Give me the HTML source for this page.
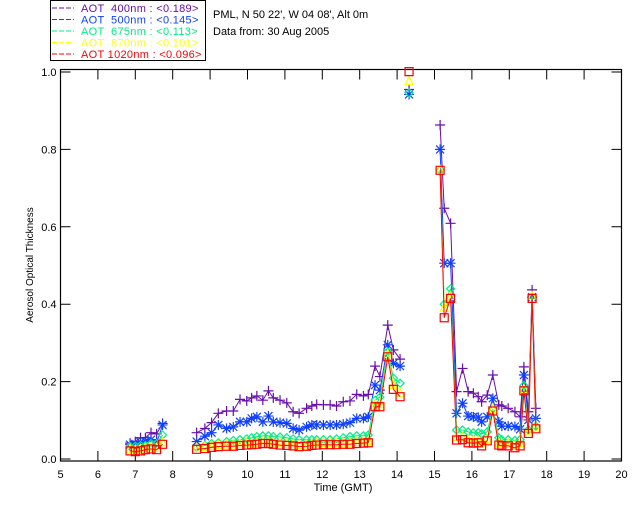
<!DOCTYPE html>
<html><head><meta charset="utf-8"><style>
html,body{margin:0;padding:0;background:#fff;}
svg{display:block;font-family:"Liberation Sans",sans-serif;}
.pre{white-space:pre;}
</style></head><body>
<svg id="chart" width="640" height="512" viewBox="0 0 640 512" xmlns="http://www.w3.org/2000/svg">
<rect x="0" y="0" width="640" height="512" fill="#fff"/>
<g id="legend">
<rect x="50.5" y="0.5" width="155" height="60" fill="none" stroke="#000"/>
</g>
<text x="213" y="18" font-size="11">PML, N 50 22', W 04 08', Alt 0m</text>
<text x="213" y="35" font-size="11">Data from: 30 Aug 2005</text>
<g id="axes"></g>
<g id="series"></g>
<text x="343" y="491" font-size="11" text-anchor="middle">Time (GMT)</text>
<text transform="translate(33,265) rotate(-90)" font-size="10" text-anchor="middle">Aerosol Optical Thickness</text>
</svg>
<script>
const times = [6.86,7.0,7.14,7.27,7.42,7.57,7.73, null,
8.64,8.86,9.04,9.22,9.44,9.62,9.80,9.98,10.11,10.25,10.41,10.56,10.69,10.87,11.05,11.22,11.38,11.58,11.72,11.85,12.03,12.21,12.38,12.56,12.74,12.92,13.10,13.23,13.41,13.54,13.75,13.90,14.08, null,
14.32, null,
15.15,15.26,15.43,15.59,15.75,15.90,16.04,16.17,16.26,16.41,16.56,16.72,16.80,16.97,17.15,17.29,17.39,17.51,17.61,17.71];
const aot400 = [0.041,0.045,0.055,0.055,0.068,0.065,0.092, null,
0.068,0.079,0.094,0.118,0.124,0.124,0.154,0.150,0.158,0.163,0.152,0.176,0.158,0.152,0.145,0.122,0.118,0.131,0.137,0.141,0.140,0.140,0.137,0.148,0.150,0.167,0.163,0.167,0.240,0.213,0.346,0.282,0.258, null,
0.955, null,
0.863,0.648,0.609,0.174,0.234,0.174,0.170,0.161,0.148,0.165,0.217,0.140,0.137,0.131,0.122,0.109,0.238,0.122,0.437,0.131];
const aot500 = [0.037,0.039,0.043,0.045,0.050,0.041,0.088, null,
0.045,0.059,0.068,0.088,0.079,0.083,0.096,0.096,0.105,0.109,0.096,0.111,0.096,0.094,0.092,0.079,0.075,0.083,0.088,0.088,0.088,0.088,0.088,0.090,0.094,0.105,0.105,0.109,0.191,0.178,0.295,0.247,0.240, null,
0.942, null,
0.800,0.506,0.506,0.118,0.144,0.111,0.109,0.108,0.096,0.109,0.157,0.096,0.085,0.085,0.084,0.077,0.217,0.101,0.418,0.105];
const aot675 = [0.032,0.033,0.035,0.035,0.040,0.040,0.062, null,
0.030,0.035,0.040,0.042,0.045,0.048,0.050,0.052,0.055,0.058,0.060,0.060,0.058,0.057,0.055,0.052,0.050,0.050,0.050,0.050,0.050,0.050,0.052,0.055,0.058,0.060,0.060,0.062,0.152,0.160,0.277,0.209,0.196, null,
0.946, null,
0.746,0.400,0.440,0.075,0.075,0.070,0.068,0.068,0.065,0.070,0.130,0.055,0.050,0.050,0.048,0.050,0.190,0.075,0.420,0.085];
const aot870 = [0.025,0.023,0.025,0.028,0.030,0.028,0.042, null,
0.028,0.030,0.033,0.035,0.036,0.036,0.038,0.039,0.040,0.041,0.043,0.043,0.041,0.039,0.038,0.037,0.035,0.036,0.038,0.039,0.040,0.040,0.040,0.041,0.041,0.043,0.044,0.045,0.140,0.140,0.270,0.190,0.170, null,
0.975, null,
0.746,0.390,0.420,0.055,0.055,0.048,0.047,0.047,0.040,0.050,0.128,0.040,0.038,0.038,0.034,0.040,0.180,0.070,0.420,0.080];
const aot1020 = [0.021,0.019,0.021,0.024,0.026,0.024,0.038, null,
0.025,0.027,0.030,0.032,0.033,0.033,0.035,0.036,0.037,0.038,0.040,0.040,0.038,0.036,0.035,0.034,0.032,0.033,0.035,0.036,0.037,0.037,0.037,0.038,0.038,0.040,0.041,0.042,0.135,0.135,0.264,0.180,0.161, null,
1.001, null,
0.746,0.365,0.415,0.049,0.050,0.042,0.041,0.042,0.034,0.047,0.124,0.036,0.034,0.034,0.029,0.034,0.176,0.066,0.415,0.078];
const xTicks = [5,6,7,8,9,10,11,12,13,14,15,16,17,18,19,20];
const yTicks = [0.0,0.2,0.4,0.6,0.8,1.0];
const legendLabels = ["AOT  400nm : <0.189>","AOT  500nm : <0.145>","AOT  675nm : <0.113>","AOT  870nm : <0.101>","AOT 1020nm : <0.096>"];

const NS="http://www.w3.org/2000/svg";
const L=60.5,R=621.5,T=69.5,B=461;
function xs(h){return L+(h-5)*(R-L)/15;}
function ys(v){return 459-v*387;}
function mk(tag,attrs,parent){const e=document.createElementNS(NS,tag);for(const k in attrs)e.setAttribute(k,attrs[k]);parent.appendChild(e);return e;}
const axes=document.getElementById('axes');
const frame=mk('rect',{x:L,y:T,width:R-L,height:B-T,fill:'none',stroke:'#000','stroke-width':1.2},axes);


xTicks.forEach(t=>{
  const x=xs(t);
  const tk=mk('path',{d:`M${x} ${B}V${B-10}M${x} ${T}V${T+10}`,stroke:'#000','stroke-width':1},axes);
  
  
  const lb=mk('text',{x:x,y:478,'font-size':11,'text-anchor':'middle'},axes);
  lb.textContent=String(t);
  
  
});
yTicks.forEach(t=>{
  const y=ys(t);
  const tk=mk('path',{d:`M${L} ${y}H${L+10}M${R} ${y}H${R-10}`,stroke:'#000','stroke-width':1},axes);
  
  
  const lb=mk('text',{x:L-4,y:y+4,'font-size':11,'text-anchor':'end'},axes);
  lb.textContent=t.toFixed(1);
  
  
});
const colors=['#6a0dad','#1040ff','#00ee80','#ffff00','#ff0000'];
const seriesData=[aot400,aot500,aot675,aot870,aot1020];
const markers=['plus','star','diamond','triangle','square'];
const sg=document.getElementById('series');
function marker(type,x,y,c,g){
  let d;
  if(type==='plus')d=`M${x-5} ${y}H${x+5}M${x} ${y-5}V${y+5}`;
  else if(type==='star')d=`M${x-5} ${y}H${x+5}M${x} ${y-5}V${y+5}M${x-4} ${y-4}L${x+4} ${y+4}M${x-4} ${y+4}L${x+4} ${y-4}`;
  else if(type==='diamond')d=`M${x} ${y-4}L${x+4} ${y}L${x} ${y+4}L${x-4} ${y}Z`;
  else if(type==='triangle')d=`M${x} ${y-5}L${x+4} ${y+3}L${x-4} ${y+3}Z`;
  else d=`M${x-4} ${y-4}H${x+4}V${y+4}H${x-4}Z`;
  const m=mk('path',{d:d,stroke:c,fill:'none','stroke-width':1.2},g);
  
  
}
seriesData.forEach((vals,si)=>{
  const g=mk('g',{},sg);
  
  
  let d='',pen=false;
  times.forEach((t,i)=>{
    if(t===null||vals[i]===null){pen=false;return;}
    d+=(pen?'L':'M')+xs(t).toFixed(1)+' '+ys(vals[i]).toFixed(1);pen=true;
  });
  const ln=mk('path',{d:d,stroke:colors[si],fill:'none','stroke-width':1},g);
  
  
  times.forEach((t,i)=>{if(t!==null&&vals[i]!==null)marker(markers[si],xs(t),ys(vals[i]),colors[si],g);});
});
const lg=document.getElementById('legend');
legendLabels.forEach((s,i)=>{
  const y=12+i*11.5;
  const dl=mk('path',{d:`M52 ${y-4}H74`,stroke:colors[i],'stroke-dasharray':'5,2','stroke-width':1},lg);
  
  
  const tx=mk('text',{x:81,y:y,'font-size':11,fill:colors[i],'class':'pre','letter-spacing':'0.3'},lg);
  tx.textContent=s;
  
  
});
</script>
</body></html>
